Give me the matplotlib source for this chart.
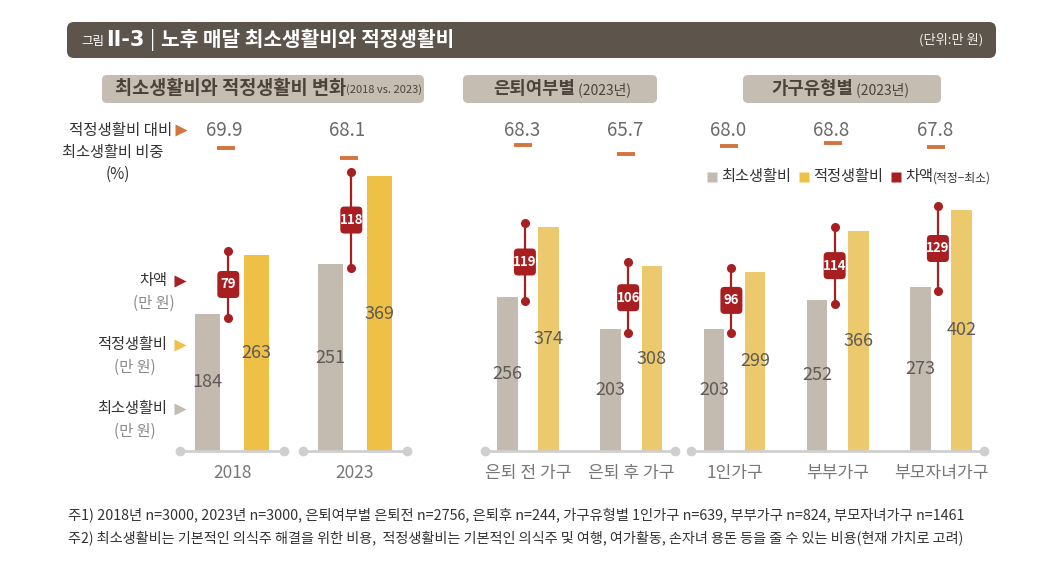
import matplotlib
matplotlib.use("Agg")
import matplotlib.pyplot as plt
from matplotlib.patches import FancyBboxPatch
from matplotlib.transforms import blended_transform_factory

plt.rcParams['font.family'] = ['Noto Sans CJK KR', 'DejaVu Sans']

# ---------------- data ----------------
p1_cats = ['2018', '2023']
p1_min = [184, 251]
p1_adq = [263, 369]
p1_gap = [79, 118]
p1_ratio = [69.9, 68.1]

p2_cats = ['은퇴 전 가구', '은퇴 후 가구', '1인가구', '부부가구', '부모자녀가구']
p2_min = [256, 203, 203, 252, 273]
p2_adq = [374, 308, 299, 366, 402]
p2_gap = [119, 106, 96, 114, 129]
p2_ratio = [68.3, 65.7, 68.0, 68.8, 67.8]
p2_groups = [[0, 1], [2, 3, 4]]

title_main = '노후 매달 최소생활비와 적정생활비'
unit_label = '(단위:만 원)'
sub_titles = [('최소생활비와 적정생활비 변화', '(2018 vs. 2023)'),
              ('은퇴여부별', ' (2023년)'),
              ('가구유형별', ' (2023년)')]
legend_labels = ['최소생활비', '적정생활비', '차액']
notes = ['주1) 2018년 n=3000, 2023년 n=3000, 은퇴여부별 은퇴전 n=2756, 은퇴후 n=244, 가구유형별 1인가구 n=639, 부부가구 n=824, 부모자녀가구 n=1461',
         '주2) 최소생활비는 기본적인 의식주 해결을 위한 비용,  적정생활비는 기본적인 의식주 및 여행, 여가활동, 손자녀 용돈 등을 줄 수 있는 비용(현재 가치로 고려)']

# ---------------- style ----------------
C_MIN = '#c3bab0'
C_ADQ1 = '#efc046'
C_ADQ2 = '#ecc96c'
C_GAP = '#a81f22'
C_DASH = '#d2753e'
C_AXIS = '#cfcfcf'
C_HEAD = '#5d544b'
C_SUB = '#c6bdb2'
C_SUBTXT = '#4d4239'
C_NUM = '#5e5a57'
C_CAT = '#777777'

W, H = 1063, 568
fig = plt.figure(figsize=(W / 100, H / 100), dpi=100)
fig.patch.set_facecolor('white')

def frac(x0, x1, ytop, ybot):
    return [x0 / W, 1 - ybot / H, (x1 - x0) / W, (ybot - ytop) / H]

# overlay in pixel coordinates
ov = fig.add_axes([0, 0, 1, 1], zorder=5)
ov.set_xlim(0, W)
ov.set_ylim(H, 0)
ov.set_axis_off()

BASE_Y, TOP_Y = 451, 110
# panel axes
ax1 = fig.add_axes(frac(180, 404, TOP_Y, BASE_Y))
ax1.set_xlim(-52 / 123, 172 / 123)
ax1.set_ylim(0, (BASE_Y - TOP_Y) / 0.745)
ax2 = fig.add_axes(frac(483, 988, TOP_Y, BASE_Y))
ax2.set_xlim(-45 / 103.25, 460 / 103.25)
ax2.set_ylim(0, (BASE_Y - TOP_Y) / 0.6)
# ratio (dash) axes
ar1 = fig.add_axes(frac(180, 404, TOP_Y, BASE_Y))
ar1.set_xlim(ax1.get_xlim())
ar1.set_ylim(69.9 - (BASE_Y - 148) / 5.56, 69.9 + (148 - TOP_Y) / 5.56)
ar2 = fig.add_axes(frac(483, 988, TOP_Y, BASE_Y))
ar2.set_xlim(ax2.get_xlim())
ar2.set_ylim(68.3 - (BASE_Y - 145) / 3.6, 68.3 + (145 - TOP_Y) / 3.6)
for a in (ax1, ax2, ar1, ar2):
    a.set_axis_off()

OFF, BW, LINE_DX = 0.2, 0.2, -0.03

def to_ov(ax, x, y):
    d = ax.transData.transform((x, y))
    return ov.transData.inverted().transform(d)

def draw_panel(ax, ar, cats, mins, adqs, gaps, ratios, groups, c_adq, px_per_val, cat_fs):
    xs = list(range(len(cats)))
    ax.bar([x - OFF for x in xs], mins, width=BW, color=C_MIN, zorder=2)
    ax.bar([x + OFF for x in xs], adqs, width=BW, color=c_adq, zorder=2)
    for g in groups:
        x0, x1 = g[0] - 0.42, g[-1] + 0.42
        ax.plot([x0, x1], [0, 0], color=C_AXIS, lw=2, zorder=3, solid_capstyle='butt',
                clip_on=False)
        ax.plot([x0, x1], [0, 0], 'o', color=C_AXIS, ms=6, zorder=3, clip_on=False)
    inset = 4 / px_per_val
    bt = blended_transform_factory(ax.transData, ov.transData)
    for x, mn, ad, gp, r, c in zip(xs, mins, adqs, gaps, ratios, cats):
        ax.text(x - OFF, mn / 2, str(mn), ha='center', va='center', fontsize=13,
                color=C_NUM, zorder=4, fontweight='light')
        ax.text(x + OFF, ad / 2, str(ad), ha='center', va='center', fontsize=13,
                color=C_NUM, zorder=4, fontweight='light')
        lx = x + LINE_DX
        ax.plot([lx, lx], [mn - inset, ad + inset], color=C_GAP, lw=1.6, zorder=5,
                clip_on=False)
        ax.plot([lx, lx], [mn - inset, ad + inset], 'o', color=C_GAP, ms=5.5, zorder=5,
                clip_on=False)
        cx, cy = to_ov(ax, lx, (mn + ad) / 2)
        ov.add_patch(FancyBboxPatch((cx - 11, cy - 13.5), 22, 27,
                                    boxstyle='round,pad=0,rounding_size=4',
                                    fc=C_GAP, ec='none', zorder=6))
        ov.text(cx, cy, str(gp), ha='center', va='center', color='white',
                fontsize=9.5, fontweight='bold', zorder=7)
        # ratio
        ar.plot([lx - 0.02], [r], marker='_', ms=12.5, mew=2.8, color=C_DASH, clip_on=False)
        ax.text(lx - 0.03, 130, f'{r:.1f}', transform=bt, ha='center', va='center',
                fontsize=13.5, color='#6a6a6a', fontweight='light')
        ax.text(x, 473, c, transform=bt, ha='center', va='center', fontsize=cat_fs,
                color=C_CAT)

draw_panel(ax1, ar1, p1_cats, p1_min, p1_adq, p1_gap, p1_ratio, [[0], [1]], C_ADQ1, 0.745, 12.5)
draw_panel(ax2, ar2, p2_cats, p2_min, p2_adq, p2_gap, p2_ratio, p2_groups, C_ADQ2, 0.6, 12.3)

# ---------------- header ----------------
ov.add_patch(FancyBboxPatch((67, 22), 929, 36, boxstyle='round,pad=0,rounding_size=7',
                            fc=C_HEAD, ec='none', zorder=1))
ov.text(81, 41, '그림', color='white', fontsize=9, va='center', ha='left', zorder=2)
ov.text(106, 40, 'II-3', color='white', fontsize=15, va='center', ha='left', zorder=2,
        family=['DejaVu Sans'], fontweight='bold')
ov.text(150, 40, '|', color='white', fontsize=14, va='center', ha='left', zorder=2)
ov.text(161, 40, title_main, color='white', fontsize=14.6, va='center', ha='left',
        fontweight='bold', zorder=2)
ov.text(983, 40, unit_label, color='#f2eee9', fontsize=9.5, va='center', ha='right', zorder=2)

# sub headers
sub_boxes = [(102, 424, 346, 13.4, 8), (463, 657, 575, 12.8, 10), (743, 941, 853, 12.8, 10)]
for (x0, x1, split, mfs, pfs), (main, paren) in zip(sub_boxes, sub_titles):
    ov.add_patch(FancyBboxPatch((x0, 75), x1 - x0, 28, boxstyle='round,pad=0,rounding_size=5',
                                fc=C_SUB, ec='none', zorder=1))
    ov.text(split, 89, main, ha='right', va='center', fontsize=mfs, fontweight='bold',
            color=C_SUBTXT, zorder=2)
    ov.text(split, 90, paren, ha='left', va='center', fontsize=pfs, color=C_SUBTXT, zorder=2)

# left labels
ov.text(172, 130, '적정생활비 대비', ha='right', va='center', fontsize=11.2, color='#333333')
ov.plot([181], [130], marker='>', ms=9, color=C_DASH, mec='none')
ov.text(113, 153, '최소생활비 비중', ha='center', va='center', fontsize=11, color='#333333')
ov.text(118, 174, '(%)', ha='center', va='center', fontsize=11, color='#333333')

left_items = [('차액', C_GAP, 281, 154), ('적정생활비', C_ADQ1, 345, 135), ('최소생활비', C_MIN, 409, 135)]
for lab, col, y, cx in left_items:
    ov.text(167, y, lab, ha='right', va='center', fontsize=11, color='#333333')
    ov.plot([180], [y], marker='>', ms=9, color=col, mec='none')
    ov.text(cx, y + 22, '(만 원)', ha='center', va='center', fontsize=11, color='#8a8a8a')

# legend
for (sx, lab, col) in [(712, legend_labels[0], C_MIN), (804, legend_labels[1], C_ADQ1), (896, legend_labels[2], C_GAP)]:
    ov.plot([sx], [177], marker='s', ms=6.5, color=col, mec='none')
    ov.text(sx + 9, 177, lab, ha='left', va='center', fontsize=11, color='#333333')
ov.text(933, 178, '(적정−최소)', ha='left', va='center', fontsize=8.5, color='#333333')

# notes
ov.text(68, 515, notes[0], ha='left', va='center', fontsize=10.3, color='#333333')
ov.text(68, 538, notes[1], ha='left', va='center', fontsize=10.2, color='#333333')

fig.savefig('out.png', dpi=100, facecolor='white')
